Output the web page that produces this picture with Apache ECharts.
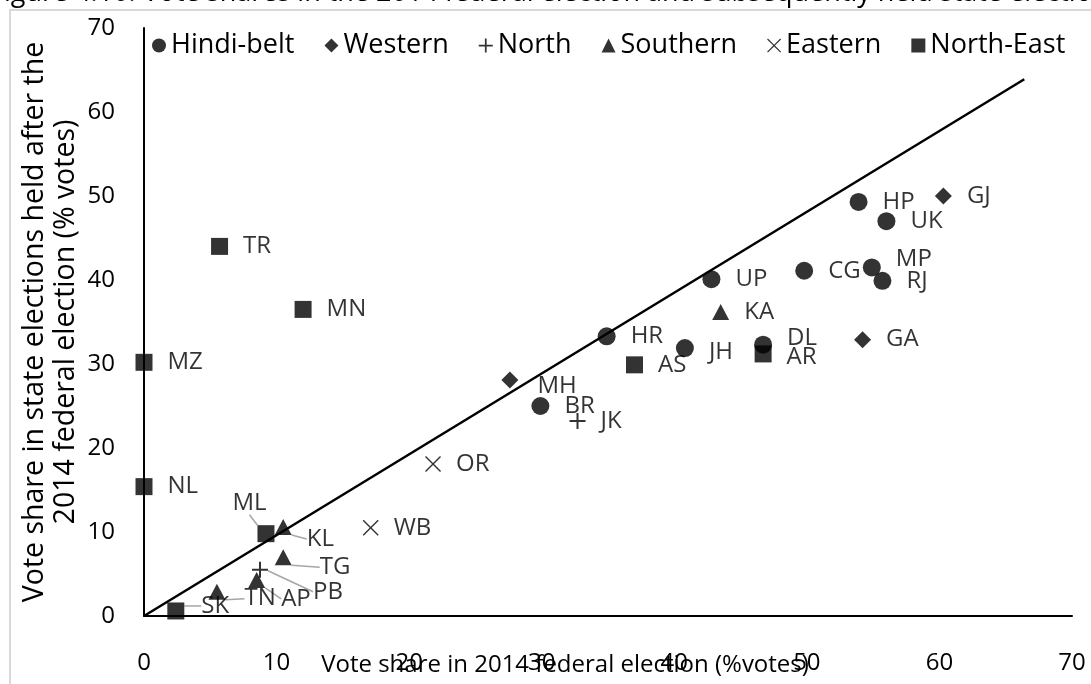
<!DOCTYPE html>
<html>
<head>
<meta charset="utf-8">
<script src="https://cdn.jsdelivr.net/npm/echarts@6/dist/echarts.min.js"></script>
<style>
  html, body { margin: 0; padding: 0; background: #fff; }
  #chart { width: 1091px; height: 684px; }
</style>
</head>
<body>
<div id="chart"></div>
<script>
// state code, 2014 federal vote share (x), later state election vote share (y)
const hindiBelt = [
  ['HP', 53.9, 49.3], ['UK', 56.0, 47.0], ['MP', 54.9, 41.5], ['RJ', 55.7, 39.9],
  ['CG', 49.8, 41.1], ['UP', 42.8, 40.1], ['HR', 34.9, 33.3], ['JH', 40.8, 31.9],
  ['DL', 46.7, 32.3], ['BR', 29.9, 25.0]
]
const western = [['GJ', 60.3, 50.0], ['GA', 54.2, 32.9], ['MH', 27.6, 28.1]]
const north = [['JK', 32.7, 23.2], ['PB', 8.75, 5.5]]
const southern = [['KA', 43.5, 36.2], ['KL', 10.5, 10.6], ['TG', 10.5, 7.0], ['AP', 8.5, 4.3], ['TN', 5.5, 2.9]]
const eastern = [['OR', 21.8, 18.1], ['WB', 17.1, 10.5]]
const northEast = [
  ['TR', 5.7, 44.0], ['MN', 12.0, 36.5], ['MZ', 0, 30.2], ['NL', 0, 15.4],
  ['ML', 9.2, 9.8], ['AS', 37.0, 29.9], ['AR', 46.7, 31.2], ['SK', 2.4, 0.6]
]
// trend line end points
const fitLine = [[0, 0], [66.4, 63.9]]

const regionNames = ['Hindi-belt', 'Western', 'North', 'Southern', 'Eastern', 'North-East']

// label nudges (px) and which labels get a leader line
const labelShift = {
  MP: [0, -8], DL: [0, -7], AR: [0, 3], MH: [4, 6], JH: [0, 4],
  ML: [-57, -31], KL: [0, 12], TG: [13, 10], PB: [30, 22], AP: [1, 19], TN: [4, 7], SK: [2, -5]
}
const withLeader = ['ML', 'KL', 'TG', 'PB', 'AP', 'TN', 'SK']

const FONT = 'Open Sans'
const plusPath = 'path://M0,7H16V9H0Z M7,0H9V16H7Z'
const crossPath = 'path://M1,0L8,7L15,0L16,1L9,8L16,15L15,16L8,9L1,16L0,15L7,8L0,1Z'

function toItems(arr) {
  return arr.map(function (d) {
    const item = { name: d[0], value: [d[1], d[2]] }
    if (withLeader.indexOf(d[0]) >= 0) {
      item.labelLine = { show: true, lineStyle: { color: '#a6a6a6', width: 1.5 } }
    }
    return item
  })
}

function scatter(name, arr, symbol, size) {
  return {
    name: name,
    type: 'scatter',
    symbol: symbol,
    symbolSize: size,
    itemStyle: { color: '#000' },
    z: 3,
    label: {
      show: true,
      position: 'right',
      distance: 15,
      formatter: '{b}',
      color: '#000',
      fontFamily: FONT,
      fontSize: 24
    },
    labelLayout: function (params) {
      const s = labelShift[params.text]
      return s ? { dx: s[0], dy: s[1] } : {}
    },
    data: toItems(arr)
  }
}

const chart = echarts.init(document.getElementById('chart'))

const option = {
  animation: false,
  backgroundColor: '#fff',
  textStyle: { fontFamily: FONT, color: '#000' },
  graphic: [
    {
      type: 'text',
      left: -10,
      top: -20,
      style: {
        text: 'Figure 4.10: Vote shares in the 2014 federal election and subsequently held state elections',
        fontFamily: FONT,
        fontSize: 27,
        fill: '#000'
      }
    },
    {
      type: 'rect',
      shape: { x: 10, y: 10, width: 1200, height: 800 },
      style: { fill: null, stroke: '#d9d9d9', lineWidth: 2 }
    }
  ],
  legend: {
    data: regionNames,
    left: 147,
    top: 27,
    itemWidth: 14,
    itemHeight: 14,
    itemGap: 30,
    textStyle: { fontFamily: FONT, fontSize: 27, color: '#000' }
  },
  grid: { left: 144, right: 19, top: 28, bottom: 68, containLabel: false, outerBoundsMode: 'none' },
  xAxis: {
    type: 'value',
    min: 0,
    max: 70,
    interval: 10,
    name: 'Vote share in 2014 federal election (%votes)',
    nameLocation: 'middle',
    nameGap: 37,
    nameMoveOverlap: false,
    nameTextStyle: { fontFamily: FONT, fontSize: 24, color: '#000', padding: [0, 86, 0, 0] },
    axisLine: { lineStyle: { color: '#000', width: 2 } },
    axisTick: { show: false },
    splitLine: { show: false },
    axisLabel: { margin: 35, fontFamily: FONT, fontSize: 24, color: '#000' }
  },
  yAxis: {
    type: 'value',
    min: 0,
    max: 70,
    interval: 10,
    name: 'Vote share in state elections held after the\n2014 federal election (% votes)',
    nameLocation: 'middle',
    nameGap: 63,
    nameMoveOverlap: false,
    nameTextStyle: { fontFamily: FONT, fontSize: 28.5, color: '#000', lineHeight: 31 },
    axisLine: { lineStyle: { color: '#000', width: 2 } },
    axisTick: { show: false },
    splitLine: { show: false },
    axisLabel: { margin: 29, fontFamily: FONT, fontSize: 24, color: '#000' }
  },
  series: [
    {
      name: 'trend',
      type: 'line',
      data: fitLine,
      symbol: 'none',
      z: 1,
      lineStyle: { color: '#000', width: 2.5 }
    },
    scatter('Hindi-belt', hindiBelt, 'circle', 18),
    scatter('Western', western, 'diamond', 17),
    scatter('North', north, plusPath, 16),
    scatter('Southern', southern, 'triangle', [17, 16]),
    scatter('Eastern', eastern, crossPath, 16),
    scatter('North-East', northEast, 'rect', 17)
  ]
}

chart.setOption(option)
</script>
</body>
</html>
